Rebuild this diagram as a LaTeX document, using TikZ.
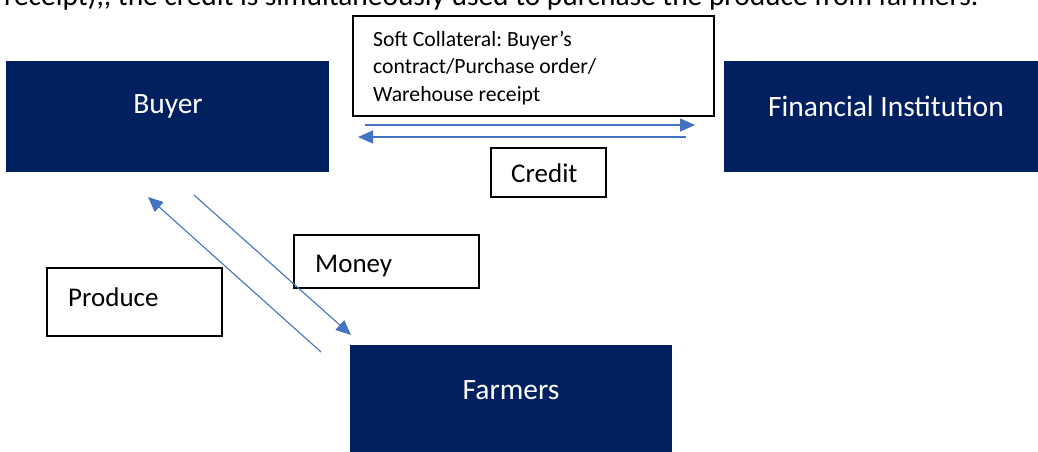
\documentclass[tikz,border=0pt]{standalone}
\usepackage{fontspec}
\setmainfont{Carlito}
\frenchspacing
\usetikzlibrary{arrows.meta}
\definecolor{navy}{RGB}{0,32,96}
\definecolor{flow}{RGB}{68,114,196}
\tikzset{
  party/.style={fill=navy, draw=none, anchor=north west, inner sep=0pt},
  partytext/.style={text=white, font=\fontsize{29.5}{34}\selectfont, inner sep=0pt},
  tag/.style={draw=black, line width=1.5pt, fill=white, anchor=north west, inner sep=0pt},
  tagtext/.style={text=black, font=\fontsize{27}{32}\selectfont, inner sep=0pt, anchor=base west},
  softtext/.style={tagtext, font=\fontsize{21.7}{26}\selectfont},
  flowarrow/.style={draw=flow, line width=1.1pt, -{Triangle[length=15pt,width=13pt]}}
}
\begin{document}
\begin{tikzpicture}[x=1pt,y=-1pt]
\useasboundingbox (0,0) rectangle (1038,451);
\clip (0,0) rectangle (1038,451);

% running text above the diagram
\node[anchor=base west, inner sep=0pt, font=\fontsize{29.4}{34}\selectfont] (intro) at (4,5.5)
  {receipt),{},{} the credit is simultaneously used to purchase the produce from farmers.};

% the three parties
\node[party, minimum width=323pt, minimum height=111pt] (buyer) at (6,61) {};
\node[party, minimum width=324pt, minimum height=111pt] (fin) at (724,61) {};
\node[party, minimum width=322pt, minimum height=120pt] (farm) at (350,345) {};
\node[partytext] (buyerlbl) at (168,106) {Buyer};
\node[partytext] (finlbl) at (886,106) {Financial Institution};
\node[partytext] (farmlbl) at (511,390) {Farmers};

% label boxes
\node[tag, minimum width=361pt, minimum height=100pt] (soft) at (352,15) {};
\node[softtext] (soft1) at (373,46) {Soft Collateral: Buyer’s};
\node[softtext] (soft2) at (373,73.5) {contract/Purchase order/};
\node[softtext] (soft3) at (373,101) {Warehouse receipt};

\node[tag, minimum width=115pt, minimum height=49pt] (credit) at (490,147) {};
\node[tagtext] (creditlbl) at (511,182) {Credit};

\node[tag, minimum width=185pt, minimum height=53pt] (money) at (293,234) {};
\node[tagtext] (moneylbl) at (315,272) {Money};

\node[tag, minimum width=175pt, minimum height=68pt] (produce) at (46,267) {};
\node[tagtext] (producelbl) at (68,306) {Produce};

% flows between the parties
\coordinate (colS) at (365,125);
\coordinate (colE) at (695,125);
\coordinate (crS) at (686,137);
\coordinate (crE) at (358,137);
\draw[flowarrow] (colS) -- (colE);
\draw[flowarrow] (crS) -- (crE);

\coordinate (prS) at (321,352);
\coordinate (prE) at (148,197);
\coordinate (moS) at (194,195);
\coordinate (moE) at (351,335);
\draw[flowarrow] (prS) -- (prE);
\draw[flowarrow] (moS) -- (moE);
\end{tikzpicture}
\end{document}
